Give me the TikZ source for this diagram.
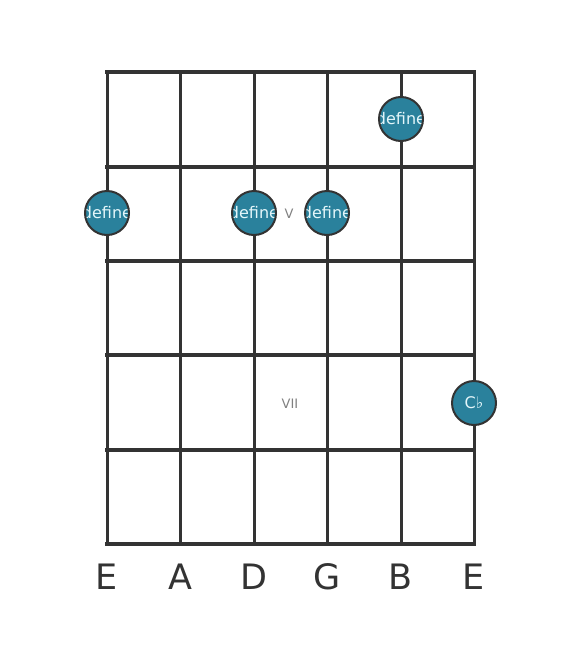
\documentclass[tikz,border=0pt]{standalone}
\usepackage{fontspec}
\setmainfont{DejaVu Sans}
\usetikzlibrary{positioning}
\definecolor{gridgray}{HTML}{333333}
\definecolor{dotblue}{HTML}{2A819C}
\definecolor{dottext}{HTML}{E4F6FA}

\begin{document}
\begin{tikzpicture}[x=1pt,y=-1pt,
    fret/.style={draw=gridgray,line width=4.5pt},
    string line/.style={draw=gridgray,line width=3pt},
    dot/.style={circle,draw=gridgray,line width=2pt,fill=dotblue,minimum size=44pt,inner sep=0pt},
    clipped text/.style={dot,path picture={\node[text=dottext,font=\fontsize{16}{16}\selectfont] at (path picture bounding box.center) {#1};}},
    string name/.style={font=\fontsize{35}{35}\selectfont,text=gridgray},
    position/.style={font=\fontsize{13}{13}\selectfont,text=gray}]

    \useasboundingbox (0,0) rectangle (567,656);

    % Strings
    \foreach \s/\x in {0/107,1/180,2/254,3/327,4/401,5/474} {
        \coordinate (top\s) at (\x,72);
        \coordinate (bot\s) at (\x,544);
        \draw[string line] (top\s) -- (bot\s);
    }

    % Frets
    \foreach \f/\y in {0/72,1/167,2/261,3/355,4/450,5/544} {
        \coordinate (left\f) at (107,\y);
        \coordinate (right\f) at (474,\y);
        \draw[fret,line cap=rect] (left\f) -- (right\f);
    }

    % Position markers
    \node[position] (V) at (289,214) {V};
    \node[position] (VII) at (290,404) {VII};

    % Notes
    \node[clipped text=define] (1) at (401,119) {};
    \node[clipped text=define] (2) at (107,213) {};
    \node[clipped text=define] (3) at (254,213) {};
    \node[clipped text=define] (4) at (327,213) {};
    \node[dot,text=dottext,font=\fontsize{16}{16}\selectfont] (5) at (474,403) {C♭};

    % String names
    \foreach \s/\n in {0/E,1/A,2/D,3/G,4/B,5/E}
        \node[string name,below=16pt of bot\s] (name\s) {\n};
\end{tikzpicture}
\end{document}
